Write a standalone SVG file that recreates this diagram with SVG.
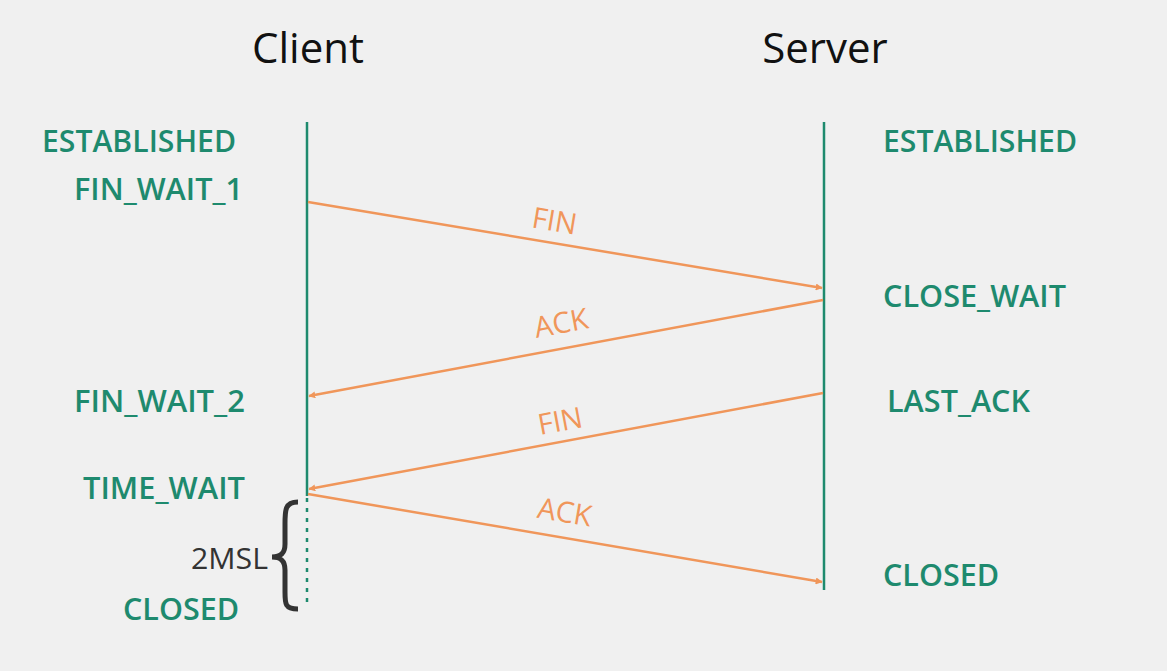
<svg xmlns="http://www.w3.org/2000/svg" width="1167" height="671" viewBox="0 0 1167 671">
<defs>
<marker id="ah" viewBox="0 0 10 10" refX="9" refY="5" markerWidth="7" markerHeight="7" orient="auto" markerUnits="userSpaceOnUse"><path d="M0,0 L10,5 L0,10 z" fill="#f0965a"/></marker>
<style>
.st{font-family:"Open Sans","Liberation Sans",sans-serif;font-size:30px;font-weight:600;fill:#1e8a6e;}
.hd{font-family:"Open Sans","Liberation Sans",sans-serif;font-size:42px;fill:#111;}
.lb{font-family:"Open Sans","Liberation Sans",sans-serif;font-size:29px;fill:#f0965a;}
.msg{stroke:#f0965a;stroke-width:2.5;fill:none;marker-end:url(#ah);}
.life{stroke:#1e8a6e;stroke-width:2.5;fill:none;}
</style>
</defs>
<rect width="1167" height="671" fill="#f0f0f0"/>
<g id="client-header"><text class="hd" x="308" y="63" text-anchor="middle">Client</text></g>
<g id="server-header"><text class="hd" x="825" y="63" text-anchor="middle">Server</text></g>
<g id="lifelines">
<line class="life" x1="307" y1="122" x2="307" y2="496"/>
<line class="life" x1="307" y1="498" x2="307" y2="606" stroke-dasharray="4,6"/>
<line class="life" x1="824" y1="122" x2="824" y2="590"/>
</g>
<g id="client-states">
<text class="st" x="42" y="152" textLength="194" lengthAdjust="spacingAndGlyphs">ESTABLISHED</text>
<text class="st" x="74" y="200" textLength="169" lengthAdjust="spacingAndGlyphs">FIN_WAIT_1</text>
<text class="st" x="74" y="412" textLength="171" lengthAdjust="spacingAndGlyphs">FIN_WAIT_2</text>
<text class="st" x="83" y="499" textLength="162" lengthAdjust="spacingAndGlyphs">TIME_WAIT</text>
<text class="st" x="123" y="620" textLength="116" lengthAdjust="spacingAndGlyphs">CLOSED</text>
</g>
<g id="server-states">
<text class="st" x="883" y="152" textLength="194" lengthAdjust="spacingAndGlyphs">ESTABLISHED</text>
<text class="st" x="883" y="307" textLength="183" lengthAdjust="spacingAndGlyphs">CLOSE_WAIT</text>
<text class="st" x="887" y="412" textLength="143" lengthAdjust="spacingAndGlyphs">LAST_ACK</text>
<text class="st" x="883" y="586" textLength="116" lengthAdjust="spacingAndGlyphs">CLOSED</text>
</g>
<g id="msl">
<text x="191" y="569" font-family="Open Sans, Liberation Sans, sans-serif" font-size="29" fill="#333" textLength="77" lengthAdjust="spacingAndGlyphs">2MSL</text>
<path d="M298,502 C285,502 285,510 285,524 L285,544 C285,553 281,557 272,557 C281,557 285,561 285,570 L285,592 C285,604 285,609 298,609" stroke="#333" stroke-width="5" fill="none"/>
</g>
<g id="connectors">
<line class="msg" x1="308" y1="202" x2="822" y2="288"/>
<line class="msg" x1="823" y1="300" x2="309" y2="396"/>
<line class="msg" x1="823" y1="393" x2="309" y2="489"/>
<line class="msg" x1="308" y1="494" x2="822" y2="582"/>
<text class="lb" transform="translate(553,231) rotate(9.5)" text-anchor="middle">FIN</text>
<text class="lb" transform="translate(563,333) rotate(-10.5)" text-anchor="middle">ACK</text>
<text class="lb" transform="translate(562,431) rotate(-10.5)" text-anchor="middle">FIN</text>
<text class="lb" transform="translate(563,522) rotate(9.7)" text-anchor="middle">ACK</text>
</g>
</svg>
